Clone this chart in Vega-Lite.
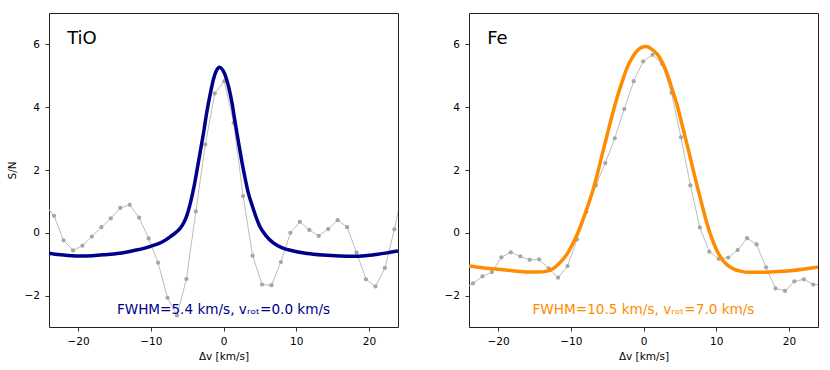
{
  "$schema": "https://vega.github.io/schema/vega-lite/v6.json",
  "padding": {"left": 6, "top": 12, "right": 5, "bottom": 5},
  "background": "white",
  "config": {
    "font": "DejaVu Sans",
    "view": {"stroke": "#222222", "strokeWidth": 1},
    "axis": {
      "grid": false,
      "domain": false,
      "tickColor": "#000000",
      "tickSize": 4,
      "tickWidth": 0.8,
      "labelFont": "DejaVu Sans",
      "labelFontSize": 10.5,
      "labelColor": "#000000",
      "labelPadding": 5.5,
      "titleFont": "DejaVu Sans",
      "titleFontSize": 10.5,
      "titleFontWeight": "normal",
      "titleColor": "#000000"
    },
    "axisX": {"titlePadding": 4},
    "axisY": {"titlePadding": 7}
  },
  "datasets": {
    "obs_tio": [
      {"v": -24.6, "sn": 0.9}, {"v": -23.3, "sn": 0.54}, {"v": -22.0, "sn": -0.24}, {"v": -20.7, "sn": -0.56},
      {"v": -19.4, "sn": -0.41}, {"v": -18.1, "sn": -0.12}, {"v": -16.8, "sn": 0.18}, {"v": -15.5, "sn": 0.46},
      {"v": -14.2, "sn": 0.79}, {"v": -12.9, "sn": 0.89}, {"v": -11.6, "sn": 0.48}, {"v": -10.3, "sn": -0.18},
      {"v": -9.0, "sn": -0.95}, {"v": -7.7, "sn": -2.07}, {"v": -6.4, "sn": -2.63}, {"v": -5.1, "sn": -1.47},
      {"v": -3.8, "sn": 0.68}, {"v": -2.5, "sn": 2.81}, {"v": -1.2, "sn": 4.44}, {"v": 0.1, "sn": 4.83},
      {"v": 1.4, "sn": 3.5}, {"v": 2.7, "sn": 1.17}, {"v": 4.0, "sn": -0.73}, {"v": 5.3, "sn": -1.65},
      {"v": 6.6, "sn": -1.67}, {"v": 7.9, "sn": -0.93}, {"v": 9.2, "sn": 0.0}, {"v": 10.5, "sn": 0.35},
      {"v": 11.8, "sn": 0.09}, {"v": 13.1, "sn": -0.1}, {"v": 14.4, "sn": 0.12}, {"v": 15.7, "sn": 0.4},
      {"v": 17.0, "sn": 0.18}, {"v": 18.3, "sn": -0.63}, {"v": 19.6, "sn": -1.48}, {"v": 20.9, "sn": -1.71},
      {"v": 22.2, "sn": -1.12}, {"v": 23.5, "sn": 0.11}, {"v": 24.8, "sn": 1.5}
    ],
    "model_tio": [
      {"v": -24, "sn": -0.65}, {"v": -22, "sn": -0.71}, {"v": -20, "sn": -0.74}, {"v": -18, "sn": -0.73},
      {"v": -16, "sn": -0.69}, {"v": -14, "sn": -0.64}, {"v": -12, "sn": -0.55}, {"v": -10, "sn": -0.43},
      {"v": -8.5, "sn": -0.3}, {"v": -7.3, "sn": -0.12}, {"v": -6.5, "sn": 0.02}, {"v": -5.9, "sn": 0.16},
      {"v": -5.4, "sn": 0.35}, {"v": -5.0, "sn": 0.58}, {"v": -4.5, "sn": 1.0}, {"v": -4.1, "sn": 1.42},
      {"v": -3.6, "sn": 2.05}, {"v": -3.2, "sn": 2.58}, {"v": -2.7, "sn": 3.25}, {"v": -2.3, "sn": 3.84},
      {"v": -1.8, "sn": 4.45}, {"v": -1.37, "sn": 4.9}, {"v": -1.0, "sn": 5.15}, {"v": -0.55, "sn": 5.27},
      {"v": -0.1, "sn": 5.18}, {"v": 0.23, "sn": 5.02}, {"v": 0.7, "sn": 4.65}, {"v": 1.15, "sn": 4.16},
      {"v": 1.6, "sn": 3.52}, {"v": 2.05, "sn": 2.9}, {"v": 2.5, "sn": 2.3}, {"v": 2.97, "sn": 1.74},
      {"v": 3.4, "sn": 1.28}, {"v": 3.9, "sn": 0.9}, {"v": 4.4, "sn": 0.55}, {"v": 5.0, "sn": 0.2},
      {"v": 5.8, "sn": -0.08}, {"v": 6.85, "sn": -0.32}, {"v": 8.0, "sn": -0.47}, {"v": 9.6, "sn": -0.58},
      {"v": 11.5, "sn": -0.66}, {"v": 13.7, "sn": -0.71}, {"v": 16.0, "sn": -0.74}, {"v": 17.8, "sn": -0.75},
      {"v": 19.5, "sn": -0.73}, {"v": 21.0, "sn": -0.69}, {"v": 22.5, "sn": -0.64}, {"v": 24.0, "sn": -0.58}
    ],
    "obs_fe": [
      {"v": -24.75, "sn": -1.8}, {"v": -23.45, "sn": -1.61}, {"v": -22.15, "sn": -1.39}, {"v": -20.85, "sn": -1.25},
      {"v": -19.55, "sn": -0.78}, {"v": -18.25, "sn": -0.62}, {"v": -16.95, "sn": -0.75}, {"v": -15.65, "sn": -0.86},
      {"v": -14.35, "sn": -0.85}, {"v": -13.05, "sn": -1.13}, {"v": -11.75, "sn": -1.43}, {"v": -10.45, "sn": -1.06},
      {"v": -9.15, "sn": -0.21}, {"v": -7.85, "sn": 0.67}, {"v": -6.55, "sn": 1.51}, {"v": -5.25, "sn": 2.22},
      {"v": -3.95, "sn": 3.01}, {"v": -2.65, "sn": 3.94}, {"v": -1.35, "sn": 4.83}, {"v": -0.05, "sn": 5.46},
      {"v": 1.25, "sn": 5.67}, {"v": 2.55, "sn": 5.38}, {"v": 3.85, "sn": 4.46}, {"v": 5.15, "sn": 3.04},
      {"v": 6.45, "sn": 1.51}, {"v": 7.75, "sn": 0.17}, {"v": 9.05, "sn": -0.6}, {"v": 10.35, "sn": -0.83},
      {"v": 11.65, "sn": -0.79}, {"v": 12.95, "sn": -0.55}, {"v": 14.25, "sn": -0.17}, {"v": 15.55, "sn": -0.37},
      {"v": 16.85, "sn": -1.1}, {"v": 18.15, "sn": -1.77}, {"v": 19.45, "sn": -1.85}, {"v": 20.75, "sn": -1.55},
      {"v": 22.05, "sn": -1.48}, {"v": 23.35, "sn": -1.65}, {"v": 24.65, "sn": -1.65}
    ],
    "model_fe": [
      {"v": -24, "sn": -1.06}, {"v": -22, "sn": -1.12}, {"v": -20, "sn": -1.16}, {"v": -18, "sn": -1.21},
      {"v": -16, "sn": -1.25}, {"v": -14.5, "sn": -1.25}, {"v": -13.25, "sn": -1.22}, {"v": -12.5, "sn": -1.15},
      {"v": -11.9, "sn": -1.04}, {"v": -11.2, "sn": -0.88}, {"v": -10.5, "sn": -0.67}, {"v": -9.8, "sn": -0.38},
      {"v": -9.1, "sn": -0.04}, {"v": -8.4, "sn": 0.37}, {"v": -7.74, "sn": 0.8}, {"v": -7.0, "sn": 1.32},
      {"v": -6.37, "sn": 1.85}, {"v": -5.7, "sn": 2.48}, {"v": -5.0, "sn": 3.12}, {"v": -4.3, "sn": 3.75},
      {"v": -3.6, "sn": 4.33}, {"v": -2.9, "sn": 4.84}, {"v": -2.24, "sn": 5.27}, {"v": -1.5, "sn": 5.6},
      {"v": -0.87, "sn": 5.8}, {"v": -0.2, "sn": 5.91}, {"v": 0.37, "sn": 5.93}, {"v": 1.1, "sn": 5.85},
      {"v": 1.88, "sn": 5.69}, {"v": 2.6, "sn": 5.42}, {"v": 3.26, "sn": 5.06}, {"v": 3.9, "sn": 4.6},
      {"v": 4.63, "sn": 4.06}, {"v": 5.3, "sn": 3.45}, {"v": 6.0, "sn": 2.8}, {"v": 6.7, "sn": 2.13},
      {"v": 7.39, "sn": 1.48}, {"v": 8.1, "sn": 0.84}, {"v": 8.76, "sn": 0.27}, {"v": 9.4, "sn": -0.18},
      {"v": 10.1, "sn": -0.57}, {"v": 10.8, "sn": -0.84}, {"v": 11.5, "sn": -1.02}, {"v": 12.3, "sn": -1.14},
      {"v": 13.3, "sn": -1.22}, {"v": 14.7, "sn": -1.26}, {"v": 16.1, "sn": -1.26}, {"v": 18.0, "sn": -1.24},
      {"v": 19.8, "sn": -1.22}, {"v": 22.0, "sn": -1.16}, {"v": 24.0, "sn": -1.09}
    ]
  },
  "spacing": 44,
  "hconcat": [
    {
      "width": 349,
      "height": 314,
      "layer": [
        {"data": {"name": "obs_tio"}, "mark": {"type": "line", "color": "#bdbdbd", "strokeWidth": 1, "clip": true},
         "encoding": {
           "x": {"field": "v", "type": "quantitative", "scale": {"domain": [-24, 24], "nice": false, "zero": false},
                 "axis": {"values": [-20, -10, 0, 10, 20], "title": "Δv [km/s]"}},
           "y": {"field": "sn", "type": "quantitative", "scale": {"domain": [-3, 7], "nice": false, "zero": false},
                 "axis": {"values": [-2, 0, 2, 4, 6], "title": "S/N"}}}},
        {"data": {"name": "obs_tio"}, "mark": {"type": "point", "filled": true, "color": "#a6a6a6", "opacity": 1, "size": 18, "clip": true},
         "encoding": {"x": {"field": "v", "type": "quantitative"}, "y": {"field": "sn", "type": "quantitative"}}},
        {"data": {"name": "model_tio"}, "mark": {"type": "line", "color": "#00008b", "strokeWidth": 3.5, "interpolate": "monotone", "clip": true},
         "encoding": {"x": {"field": "v", "type": "quantitative"}, "y": {"field": "sn", "type": "quantitative"}}},
        {"data": {"values": [{"label": "TiO"}]}, "mark": {"type": "text", "fontSize": 18, "align": "left", "baseline": "alphabetic", "color": "#000000"},
         "encoding": {"x": {"datum": -21.5, "type": "quantitative"}, "y": {"datum": 6.0, "type": "quantitative"}, "text": {"field": "label", "type": "nominal"}}},
        {"data": {"values": [{"label": "FWHM=5.4 km/s, vᵣₒₜ=0.0 km/s"}]}, "mark": {"type": "text", "fontSize": 13.6, "align": "center", "baseline": "alphabetic", "color": "#00008b"},
         "encoding": {"x": {"datum": 0, "type": "quantitative"}, "y": {"datum": -2.6, "type": "quantitative"}, "text": {"field": "label", "type": "nominal"}}}
      ]
    },
    {
      "width": 349,
      "height": 314,
      "layer": [
        {"data": {"name": "obs_fe"}, "mark": {"type": "line", "color": "#bdbdbd", "strokeWidth": 1, "clip": true},
         "encoding": {
           "x": {"field": "v", "type": "quantitative", "scale": {"domain": [-24, 24], "nice": false, "zero": false},
                 "axis": {"values": [-20, -10, 0, 10, 20], "title": "Δv [km/s]"}},
           "y": {"field": "sn", "type": "quantitative", "scale": {"domain": [-3, 7], "nice": false, "zero": false},
                 "axis": {"values": [-2, 0, 2, 4, 6], "title": null}}}},
        {"data": {"name": "obs_fe"}, "mark": {"type": "point", "filled": true, "color": "#a6a6a6", "opacity": 1, "size": 18, "clip": true},
         "encoding": {"x": {"field": "v", "type": "quantitative"}, "y": {"field": "sn", "type": "quantitative"}}},
        {"data": {"name": "model_fe"}, "mark": {"type": "line", "color": "#ff8c00", "strokeWidth": 3.5, "interpolate": "monotone", "clip": true},
         "encoding": {"x": {"field": "v", "type": "quantitative"}, "y": {"field": "sn", "type": "quantitative"}}},
        {"data": {"values": [{"label": "Fe"}]}, "mark": {"type": "text", "fontSize": 18, "align": "left", "baseline": "alphabetic", "color": "#000000"},
         "encoding": {"x": {"datum": -21.5, "type": "quantitative"}, "y": {"datum": 6.0, "type": "quantitative"}, "text": {"field": "label", "type": "nominal"}}},
        {"data": {"values": [{"label": "FWHM=10.5 km/s, vᵣₒₜ=7.0 km/s"}]}, "mark": {"type": "text", "fontSize": 13.6, "align": "center", "baseline": "alphabetic", "color": "#ff8c00"},
         "encoding": {"x": {"datum": 0, "type": "quantitative"}, "y": {"datum": -2.6, "type": "quantitative"}, "text": {"field": "label", "type": "nominal"}}}
      ]
    }
  ]
}
